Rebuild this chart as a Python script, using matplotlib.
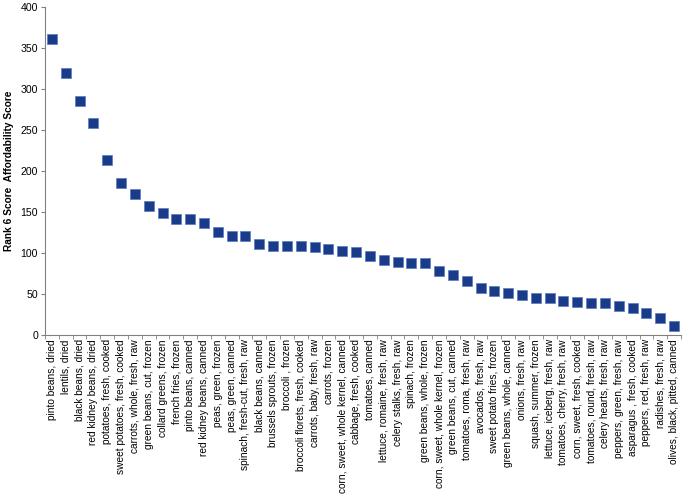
import numpy as np
import matplotlib
matplotlib.use('Agg')
from matplotlib import pyplot as plt

foods = [
    'pinto beans, dried', 'lentils, dried', 'black beans, dried',
    'red kidney beans, dried', 'potatoes, fresh, cooked',
    'sweet potatoes, fresh, cooked', 'carrots, whole, fresh, raw',
    'green beans, cut, frozen', 'collard greens, frozen', 'french fries, frozen',
    'pinto beans, canned', 'red kidney beans, canned', 'peas, green, frozen',
    'peas, green, canned', 'spinach, fresh-cut, fresh, raw', 'black beans, canned',
    'brussels sprouts, frozen', 'broccoli , frozen', 'broccoli florets, fresh, cooked',
    'carrots, baby, fresh, raw', 'carrots, frozen', 'corn, sweet, whole kernel, canned',
    'cabbage, fresh, cooked', 'tomatoes, canned', 'lettuce, romaine, fresh, raw',
    'celery stalks, fresh, raw', 'spinach, frozen', 'green beans, whole, frozen',
    'corn, sweet, whole kernel, frozen', 'green beans, cut, canned',
    'tomatoes, roma, fresh, raw', 'avocados, fresh, raw', 'sweet potato fries, frozen',
    'green beans, whole, canned', 'onions, fresh, raw', 'squash, summer, frozen',
    'lettuce, iceberg, fresh, raw', 'tomatoes, cherry, fresh, raw',
    'corn, sweet, fresh, cooked', 'tomatoes, round, fresh, raw',
    'celery hearts, fresh, raw', 'peppers, green, fresh, raw',
    'asparagus , fresh, cooked', 'peppers, red, fresh, raw', 'radishes, fresh, raw',
    'olives, black, pitted, canned',
]
scores = [
    361, 320, 285, 258, 213, 185, 172, 157, 149, 142,
    142, 136, 126, 121, 120.5, 110.5, 109, 108, 108, 107.5,
    105, 102.6, 101.8, 96.3, 91.5, 89.4, 88.2, 88.2, 78.5, 73.6,
    65.9, 57, 53.3, 50.8, 48.4, 45.5, 44.7, 41.9, 40.7, 39,
    38.8, 35.8, 33.3, 26.4, 21.1, 11,
]

plt.rcParams['font.family'] = ['Liberation Sans', 'DejaVu Sans']

fig = plt.figure(figsize=(6.83, 4.99), dpi=100)
ax = fig.add_axes([45 / 683, 1 - 335 / 499, 636 / 683, 328 / 499])

x = np.arange(len(foods))
ax.plot(x, scores, 's', color='#1a3a8a', markersize=6.5,
        markeredgecolor='#5a7cc0', markeredgewidth=0.5)

ax.set_xlim(-0.5, len(foods) - 0.5)
ax.set_ylim(0, 400)
ax.set_yticks(range(0, 401, 50))
ax.set_xticks(x)
ax.set_xticklabels(foods, rotation=90, fontsize=7.3)
ax.tick_params(axis='x', length=0, pad=3)
ax.set_xticks(np.arange(-0.5, len(foods), 1), minor=True)
ax.tick_params(axis='x', which='minor', length=3, color='#808080')
ax.tick_params(axis='y', labelsize=7.6, length=3, pad=2, color='#808080')

for s in ['top', 'right']:
    ax.spines[s].set_visible(False)
for s in ['left', 'bottom']:
    ax.spines[s].set_color('#808080')

ax.set_ylabel('Rank 6 Score  Affordability Score', fontsize=7.3, fontweight='bold', labelpad=5)

fig.savefig('out.png', dpi=100)
